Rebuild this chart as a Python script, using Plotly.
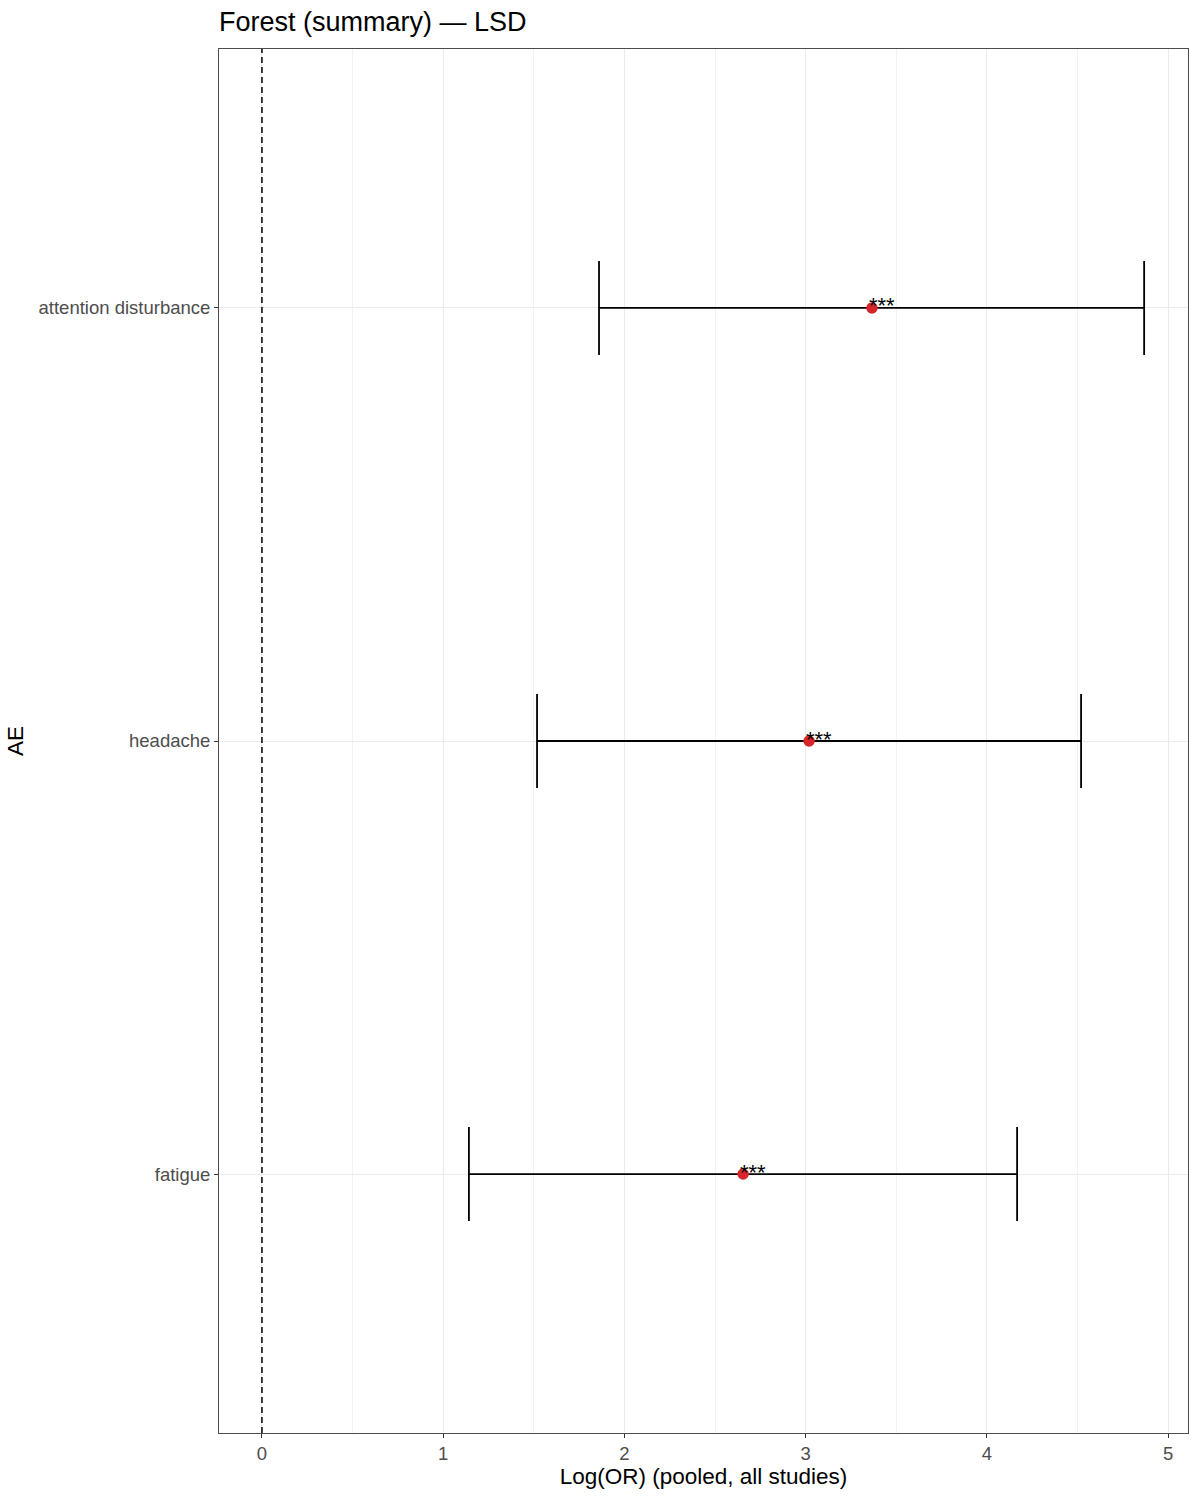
import plotly.graph_objects as go

# Data
ae = ["attention disturbance", "headache", "fatigue"]
log_or = [3.366, 3.019, 2.655]
ci_low = [1.860, 1.518, 1.142]
ci_high = [4.868, 4.520, 4.167]
sig = ["***", "***", "***"]
y_order = ["fatigue", "headache", "attention disturbance"]
x_ticks = [0, 1, 2, 3, 4, 5]

font_family = "Liberation Sans, Arial, sans-serif"

fig = go.Figure()

# Error bars
fig.add_trace(go.Scatter(
    x=log_or, y=ae, mode="markers",
    marker=dict(size=1, color="rgba(0,0,0,0)"),
    error_x=dict(
        type="data", symmetric=False,
        array=[h - p for h, p in zip(ci_high, log_or)],
        arrayminus=[p - l for p, l in zip(log_or, ci_low)],
        color="black", thickness=1.8, width=47,
    ),
    showlegend=False, hoverinfo="skip",
))

# Points
fig.add_trace(go.Scatter(
    x=log_or, y=ae, mode="markers",
    marker=dict(size=11.5, color="#d7262b"),
    showlegend=False,
))

# Significance stars
for x, y, s in zip(log_or, ae, sig):
    fig.add_annotation(
        x=x, y=y, text=s, showarrow=False,
        xanchor="left", yanchor="middle", xshift=-5, yshift=2,
        font=dict(family=font_family, size=22, color="black"),
    )

# Dashed reference line at 0
fig.add_shape(
    type="line", xref="x", yref="paper", x0=0, x1=0, y0=0, y1=1,
    line=dict(color="black", width=1.5, dash="6px,4px"),
)

fig.update_layout(
    width=1200, height=1500,
    margin=dict(l=219, r=12, t=49, b=67),
    paper_bgcolor="white", plot_bgcolor="white",
    font=dict(family=font_family, color="black"),
    title=dict(
        text="Forest (summary) — LSD",
        x=219 / 1200, xanchor="left", y=1 - 22 / 1500, yanchor="middle",
        font=dict(family=font_family, size=27, color="black"),
    ),
    xaxis=dict(
        range=[-0.237, 5.11],
        tickvals=x_ticks, ticktext=[str(v) for v in x_ticks],
        showgrid=True, gridcolor="#ebebeb", gridwidth=1.2,
        minor=dict(dtick=0.5, tick0=0, showgrid=True, gridcolor="#f2f2f2", gridwidth=0.7),
        zeroline=False,
        showline=True, mirror=True, linecolor="#4d4d4d", linewidth=1,
        ticks="outside", ticklen=4, tickcolor="#333333", tickwidth=1,
        tickfont=dict(family=font_family, size=18.5, color="#4d4d4d"),
        title=dict(text="Log(OR) (pooled, all studies)",
                   font=dict(family=font_family, size=22.5, color="black"),
                   standoff=4),
    ),
    yaxis=dict(
        type="category", categoryorder="array", categoryarray=y_order,
        range=[-0.598, 2.598],
        showgrid=True, gridcolor="#ebebeb", gridwidth=1.2,
        zeroline=False,
        showline=True, mirror=True, linecolor="#4d4d4d", linewidth=1,
        ticks="outside", ticklen=4, tickcolor="#333333", tickwidth=1,
        tickfont=dict(family=font_family, size=18.5, color="#4d4d4d"),
        title=dict(text="AE",
                   font=dict(family=font_family, size=22.5, color="black"),
                   standoff=8),
    ),
)

fig.write_html("out.html")
